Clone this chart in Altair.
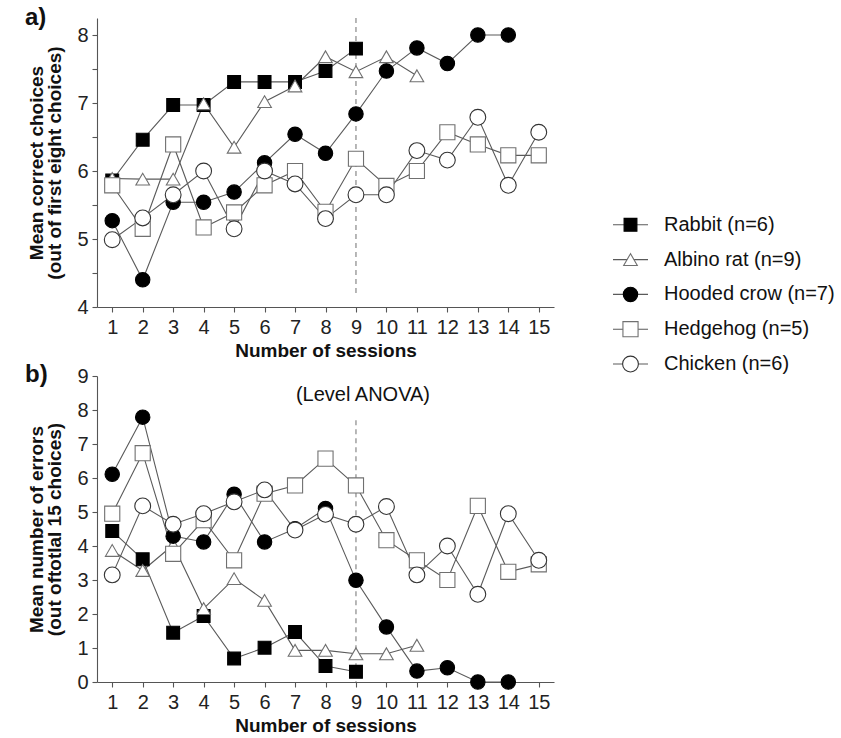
import altair as alt
import pandas as pd

species = ["Rabbit (n=6)", "Albino rat (n=9)", "Hooded crow (n=7)", "Hedgehog (n=5)", "Chicken (n=6)"]
sessions = list(range(1, 16))

# Panel a: mean correct choices (out of first eight choices)
a_rabbit = [5.86, 6.46, 6.97, 6.97, 7.31, 7.31, 7.31, 7.47, 7.80]
a_rat = [5.89, 5.88, 5.88, 6.99, 6.35, 7.02, 7.25, 7.68, 7.46, 7.68, 7.40]
a_crow = [5.27, 4.40, 5.54, 5.54, 5.69, 6.12, 6.54, 6.26, 6.84, 7.47, 7.81, 7.58, 8.0, 8.0]
a_hedgehog = [5.79, 5.15, 6.39, 5.17, 5.39, 5.79, 6.00, 5.40, 6.18, 5.78, 6.00, 6.57, 6.39, 6.23, 6.23]
a_chicken = [4.99, 5.31, 5.65, 6.00, 5.15, 6.00, 5.81, 5.30, 5.65, 5.65, 6.30, 6.16, 6.79, 5.79, 6.57]

# Panel b: mean number of errors (out of total 15 choices)
b_rabbit = [4.44, 3.61, 1.45, 1.94, 0.69, 1.01, 1.47, 0.47, 0.30]
b_rat = [3.87, 3.28, 4.03, 2.16, 3.04, 2.40, 0.93, 0.93, 0.83, 0.83, 1.08]
b_crow = [6.11, 7.79, 4.29, 4.12, 5.52, 4.12, 4.51, 5.10, 2.99, 1.62, 0.32, 0.42, 0.0, 0.0]
b_hedgehog = [4.95, 6.73, 3.77, 4.76, 3.58, 5.54, 5.78, 6.57, 5.78, 4.17, 3.58, 3.00, 5.18, 3.24, 3.46]
b_chicken = [3.15, 5.18, 4.64, 4.95, 5.30, 5.65, 4.47, 4.93, 4.64, 5.16, 3.15, 4.00, 2.58, 4.95, 3.58]

a_ticks = [4, 4.5, 5, 5.5, 6, 6.5, 7, 7.5, 8]
b_ticks = [0, 1, 2, 3, 4, 5, 6, 7, 8, 9]

FONT = "Liberation Sans"


def long(series_list):
    rows = []
    for name, vals in zip(species, series_list):
        for s, v in zip(sessions, vals):
            rows.append({"species": name, "session": s, "value": v})
    return pd.DataFrame(rows)


df_a = long([a_rabbit, a_rat, a_crow, a_hedgehog, a_chicken])
df_b = long([b_rabbit, b_rat, b_crow, b_hedgehog, b_chicken])

shape_scale = alt.Scale(domain=species, range=["square", "triangle-up", "circle", "square", "circle"])
fill_scale = alt.Scale(domain=species, range=["#000000", "#ffffff", "#000000", "#ffffff", "#ffffff"])
stroke_scale = alt.Scale(domain=species, range=["#000000", "#707070", "#000000", "#707070", "#333333"])
size_scale = alt.Scale(domain=species, range=[165, 250, 170, 160, 175])


def panel(df, ydom, yticks, height, ytitle, label_expr, rule_df, letter, letter_y, extra_df=None):
    x = alt.X("session:Q",
              scale=alt.Scale(domain=[0.5, 15.5], nice=False, zero=False),
              axis=alt.Axis(values=sessions, title="Number of sessions", grid=False,
                            labelPadding=5, titlePadding=4, labelOverlap=False,
                            labelExpr="format(datum.value, 'd')"))
    y = alt.Y("value:Q",
              scale=alt.Scale(domain=ydom, nice=False, zero=False),
              axis=alt.Axis(values=yticks, title=ytitle, grid=False, labelExpr=label_expr,
                            labelPadding=4, titlePadding=12, labelOverlap=False))
    base = alt.Chart(df)
    lines = base.mark_line(color="#5a5a5a", strokeWidth=1.1).encode(
        x=x, y=y, detail="species:N")
    pts = base.mark_point(filled=True, opacity=1, strokeWidth=1.1).encode(
        x=x, y=y,
        shape=alt.Shape("species:N", scale=shape_scale, legend=None),
        fill=alt.Fill("species:N", scale=fill_scale, legend=None),
        stroke=alt.Stroke("species:N", scale=stroke_scale, legend=None),
        size=alt.Size("species:N", scale=size_scale, legend=None),
    )
    rule = alt.Chart(rule_df).mark_rule(color="#888888", strokeDash=[5, 4], strokeWidth=1.2).encode(
        x=x, y=y, y2="value2:Q")
    lab = alt.Chart(pd.DataFrame({"t": [letter]})).mark_text(
        font=FONT, fontSize=24, fontWeight="bold", align="left", baseline="middle", color="#111"
    ).encode(x=alt.value(-72), y=alt.value(letter_y), text="t:N")
    layers = [rule, lines, pts, lab]
    if extra_df is not None:
        layers.append(alt.Chart(extra_df).mark_text(font=FONT, fontSize=20, color="#111").encode(
            x=x, y=y, text="t:N"))
    return alt.layer(*layers).properties(width=457, height=height)


rule_a = pd.DataFrame({"session": [9], "value": [8.25], "value2": [4.18]})
rule_b = pd.DataFrame({"session": [9], "value": [7.7], "value2": [0.0]})
anova_df = pd.DataFrame({"session": [9.23], "value": [8.45], "t": ["(Level ANOVA)"]})

pa = panel(df_a, [4, 8.25], a_ticks, 289,
           ["Mean correct choices", "(out of first eight choices)"],
           "datum.value % 1 == 0 ? format(datum.value, 'd') : ''", rule_a, "a)", 0)
pb = panel(df_b, [0, 9], b_ticks, 306,
           ["Mean number of errors", "(out oftotlal 15 choices)"],
           "format(datum.value, 'd')", rule_b, "b)", -1, extra_df=anova_df)

# Legend drawn as its own small chart
leg_df = pd.DataFrame({"species": species, "idx": list(range(len(species))),
                       "x0": [0.0] * 5, "x1": [1.0] * 5, "xm": [0.5] * 5})
ly = alt.Y("idx:Q", scale=alt.Scale(domain=[-5.94, 4.2], reverse=True, nice=False, zero=False), axis=None)
lx_scale = alt.Scale(domain=[0, 1], nice=False, zero=False)
leg_base = alt.Chart(leg_df)
leg_line = leg_base.mark_rule(color="#5a5a5a", strokeWidth=1.1).encode(
    x=alt.X("x0:Q", scale=lx_scale, axis=None), x2="x1:Q", y=ly)
leg_pt = leg_base.mark_point(filled=True, opacity=1, strokeWidth=1.1).encode(
    x=alt.X("xm:Q", scale=lx_scale, axis=None), y=ly,
    shape=alt.Shape("species:N", scale=shape_scale, legend=None),
    fill=alt.Fill("species:N", scale=fill_scale, legend=None),
    stroke=alt.Stroke("species:N", scale=stroke_scale, legend=None),
    size=alt.Size("species:N", scale=alt.Scale(domain=species, range=[130, 170, 150, 120, 130]), legend=None),
)
leg_txt = leg_base.mark_text(font=FONT, fontSize=20, align="left", baseline="middle", dx=16, color="#111").encode(
    x=alt.X("x1:Q", scale=lx_scale, axis=None), y=ly, text="species:N")
legend = alt.layer(leg_line, leg_pt, leg_txt).properties(width=35, height=353)

left = alt.vconcat(pa, pb, spacing=3)
chart = alt.hconcat(left, legend, spacing=58).properties(
    padding={"left": 25, "top": 6, "right": 2, "bottom": 1}
).configure_view(stroke=None).configure_axis(
    labelFont=FONT, labelFontSize=20, labelColor="#222", labelOverlap=False,
    titleFont=FONT, titleFontSize=19, titleFontWeight="bold", titleColor="#111",
    domainColor="#555", tickColor="#555", tickSize=5, domainWidth=1.1, tickWidth=1.1,
    titleLineHeight=18,
)

chart.save("out.html", embed_options={"renderer": "svg", "actions": False})
